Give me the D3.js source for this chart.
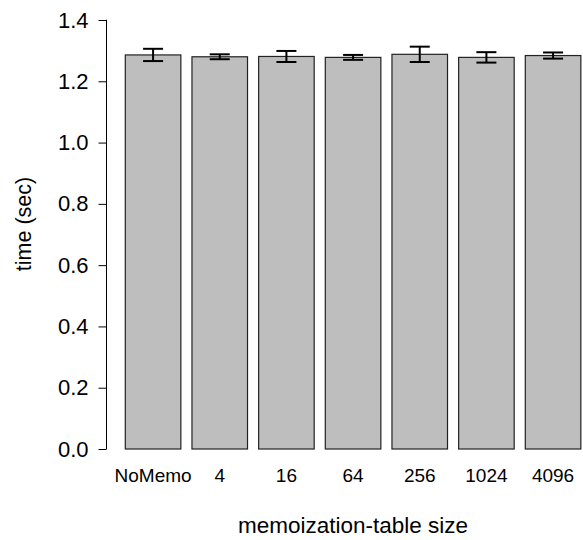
<!DOCTYPE html>
<html>
<head>
<meta charset="utf-8">
<script src="https://cdn.jsdelivr.net/npm/d3@7"></script>
<style>
  body { margin: 0; background: #fff; }
  text { font-family: "Liberation Sans", Arial, sans-serif; fill: #000; }
</style>
</head>
<body>
<div id="chart"></div>
<script>
// data
var sizes = ["NoMemo", "4", "16", "64", "256", "1024", "4096"];
var times = [1.286, 1.280, 1.281, 1.278, 1.288, 1.278, 1.284];
var errors = [0.020, 0.008, 0.018, 0.008, 0.025, 0.017, 0.010];
var yTicks = [0.0, 0.2, 0.4, 0.6, 0.8, 1.0, 1.2, 1.4];

var w = 583;
var h = 540;

var svg = d3.select("#chart")
  .append("svg")
  .attr("width", w)
  .attr("height", h);

// x scale: bars with 0.2 gap like R barplot
var x = d3.scaleBand()
  .domain(sizes)
  .range([119.75, 586.4])
  .paddingInner(0.1667)
  .paddingOuter(0.0833);

var y = d3.scaleLinear()
  .domain([0, 1.4])
  .range([449, 20]);

// bars
svg.append("g")
  .selectAll("rect")
  .data(sizes)
  .enter()
  .append("rect")
  .attr("x", function(d){ return x(d); })
  .attr("y", function(d, i){ return y(times[i]); })
  .attr("width", x.bandwidth())
  .attr("height", function(d, i){ return y(0) - y(times[i]); })
  .style("fill", "#bebebe")
  .style("stroke", "#222")
  .style("stroke-width", 1.2);

// error bars
var eb = svg.append("g")
  .selectAll("g")
  .data(sizes)
  .enter()
  .append("g");

eb.append("line")
  .attr("x1", function(d){ return x(d) + x.bandwidth() / 2; })
  .attr("x2", function(d){ return x(d) + x.bandwidth() / 2; })
  .attr("y1", function(d, i){ return y(times[i] + errors[i]); })
  .attr("y2", function(d, i){ return y(times[i] - errors[i]); })
  .style("stroke", "#000")
  .style("stroke-width", 2);

[1, -1].forEach(function(s){
  eb.append("line")
    .attr("x1", function(d){ return x(d) + x.bandwidth() / 2 - 10; })
    .attr("x2", function(d){ return x(d) + x.bandwidth() / 2 + 10; })
    .attr("y1", function(d, i){ return y(times[i] + s * errors[i]); })
    .attr("y2", function(d, i){ return y(times[i] + s * errors[i]); })
    .style("stroke", "#000")
    .style("stroke-width", 2);
});

// y axis
var yAxis = svg.append("g")
  .attr("transform", "translate(106.5,0)")
  .call(d3.axisLeft(y).tickValues(yTicks).tickSize(8).tickPadding(10)
        .tickFormat(d3.format(".1f")));
yAxis.select(".domain").attr("d", "M-0.5," + y(1.4) + "H0V" + y(0) + "H-0.5")
  .style("stroke", "#000");
yAxis.selectAll(".tick line").style("stroke", "#000");
yAxis.selectAll(".tick text")
  .style("font-size", "22px")
  .style("font-family", "Liberation Sans, Arial, sans-serif");

// x labels
svg.append("g")
  .selectAll("text")
  .data(sizes)
  .enter()
  .append("text")
  .attr("x", function(d){ return x(d) + x.bandwidth() / 2; })
  .attr("y", 482)
  .attr("text-anchor", "middle")
  .style("font-size", "19px")
  .text(function(d){ return d; });

// axis titles
svg.append("text")
  .attr("x", 353)
  .attr("y", 533)
  .attr("text-anchor", "middle")
  .style("font-size", "22.5px")
  .text("memoization-table size");

svg.append("text")
  .attr("transform", "translate(31,224) rotate(-90)")
  .attr("text-anchor", "middle")
  .style("font-size", "21.5px")
  .text("time (sec)");
</script>
</body>
</html>
